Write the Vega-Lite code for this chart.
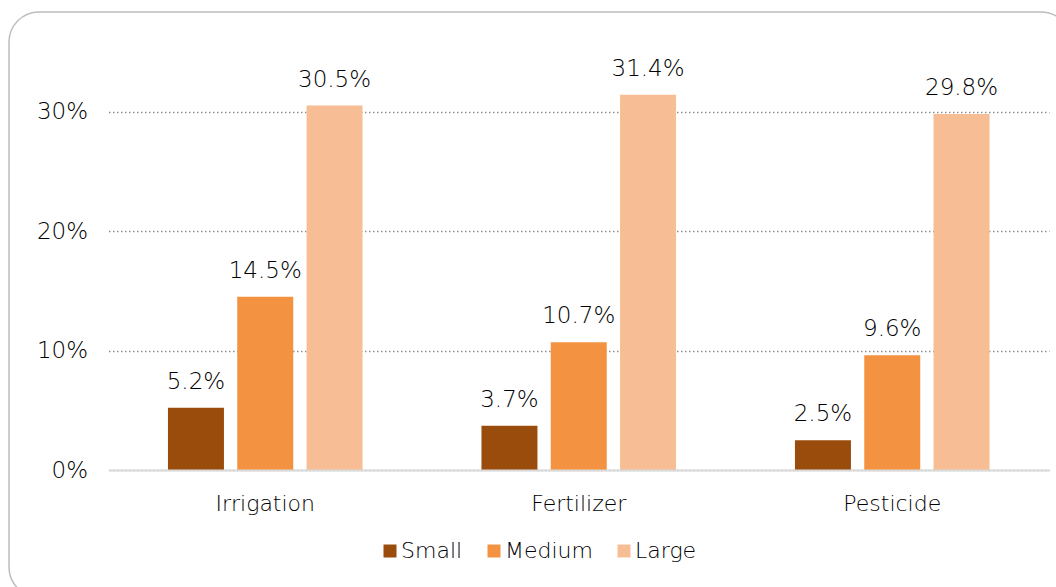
{
  "$schema": "https://vega.github.io/schema/vega-lite/v6.json",
  "width": 1062,
  "height": 585,
  "autosize": {"type": "none"},
  "padding": {"left": 9, "top": 12, "right": -15, "bottom": -10},
  "background": "white",
  "config": {
    "view": {"stroke": "#bdbdbd", "strokeWidth": 1.5, "cornerRadius": 30},
    "font": "DejaVu Sans"
  },
  "data": {
    "values": [
      {"category": "Irrigation", "size": "Small", "value": 0.052},
      {"category": "Irrigation", "size": "Medium", "value": 0.145},
      {"category": "Irrigation", "size": "Large", "value": 0.305},
      {"category": "Fertilizer", "size": "Small", "value": 0.037},
      {"category": "Fertilizer", "size": "Medium", "value": 0.107},
      {"category": "Fertilizer", "size": "Large", "value": 0.314},
      {"category": "Pesticide", "size": "Small", "value": 0.025},
      {"category": "Pesticide", "size": "Medium", "value": 0.096},
      {"category": "Pesticide", "size": "Large", "value": 0.298}
    ]
  },
  "encoding": {
    "x": {
      "field": "category",
      "type": "nominal",
      "sort": ["Irrigation", "Fertilizer", "Pesticide"],
      "scale": {"range": [99.5, 1040], "paddingInner": 0, "paddingOuter": 0},
      "axis": {
        "orient": "bottom",
        "offset": -127,
        "domainColor": "#d9d9d9",
        "domainWidth": 2,
        "ticks": false,
        "grid": false,
        "labelFontSize": 22,
        "labelFontWeight": 200,
        "labelPadding": 23,
        "labelColor": "#000000",
        "labelAngle": 0,
        "title": null,
        "zindex": 1
      }
    },
    "xOffset": {
      "field": "size",
      "type": "nominal",
      "sort": ["Small", "Medium", "Large"],
      "scale": {"paddingInner": 0.192, "paddingOuter": 0.858}
    },
    "y": {
      "field": "value",
      "type": "quantitative",
      "scale": {"domain": [0, 0.3], "range": [458, 99.5], "nice": false, "zero": true},
      "axis": {
        "orient": "left",
        "offset": -99.5,
        "domain": false,
        "ticks": false,
        "values": [0, 0.1, 0.2, 0.3],
        "format": ".0%",
        "labelFontSize": 23,
        "labelFontWeight": 200,
        "labelColor": "#000000",
        "labelPadding": 21,
        "gridColor": "#8c8c8c",
        "gridDash": [1.5, 2.5],
        "gridWidth": 1.5,
        "title": null
      }
    }
  },
  "layer": [
    {
      "mark": {"type": "bar"},
      "encoding": {
        "color": {
          "field": "size",
          "type": "nominal",
          "sort": ["Small", "Medium", "Large"],
          "scale": {"domain": ["Small", "Medium", "Large"], "range": ["#994C0B", "#F39240", "#F7BE95"]},
          "legend": {
            "orient": "none",
            "legendX": 370,
            "legendY": 528,
            "padding": 0,
            "direction": "horizontal",
            "title": null,
            "symbolType": "square",
            "symbolSize": 169,
            "symbolStrokeWidth": 0,
            "labelFontSize": 22,
            "labelFontWeight": 200,
            "labelOffset": 0,
            "columnPadding": 20,
            "labelColor": "#000000"
          }
        }
      }
    },
    {
      "mark": {"type": "text", "dy": -19, "baseline": "alphabetic", "fontSize": 23, "fontWeight": 200, "color": "#000000"},
      "encoding": {
        "text": {"field": "value", "type": "quantitative", "format": ".1%"}
      }
    }
  ]
}
